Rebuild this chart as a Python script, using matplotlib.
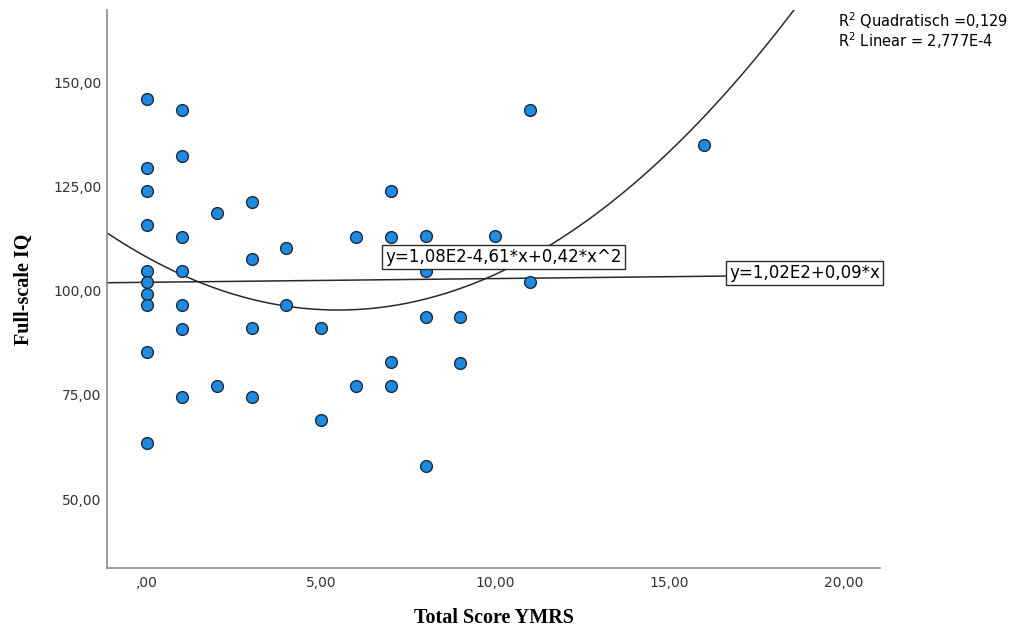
import numpy as np
import matplotlib
matplotlib.use('Agg')
import matplotlib.pyplot as plt

# YMRS total score vs full-scale IQ
ymrs = [0, 0, 0, 0, 0, 0, 0, 0, 0, 0,
        1, 1, 1, 1, 1, 1, 1,
        2, 2,
        3, 3, 3, 3,
        4, 4,
        5, 5,
        6, 6,
        7, 7, 7, 7,
        8, 8, 8, 8,
        9, 9,
        10,
        11, 11,
        16]
iq = [146.0, 129.5, 124.0, 115.8, 104.8, 102.0, 99.3, 96.6, 85.4, 63.5,
      143.4, 132.4, 112.9, 104.8, 96.6, 90.9, 74.6,
      118.5, 77.2,
      121.3, 107.5, 91.0, 74.5,
      110.2, 96.6,
      91.0, 69.0,
      112.9, 77.2,
      124.0, 112.9, 82.8, 77.2,
      113.0, 104.8, 93.8, 57.9,
      93.8, 82.7,
      113.0,
      143.4, 102.0,
      135.0]

# fitted coefficients as reported in the chart
lin_coef = (102.0, 0.09)
quad_coef = (108.0, -4.61, 0.42)
lin_label = 'y=1,02E2+0,09*x'
quad_label = 'y=1,08E2-4,61*x+0,42*x^2'
r2_text = '$\\mathregular{R^2}$ Quadratisch =0,129\n$\\mathregular{R^2}$ Linear = 2,777E-4'

xticks = [0, 5, 10, 15, 20]
xticklabels = [',00', '5,00', '10,00', '15,00', '20,00']
yticks = [50, 75, 100, 125, 150]
yticklabels = ['50,00', '75,00', '100,00', '125,00', '150,00']

XLIM = (-1.15, 21.05)
YLIM = (33.5, 167.3)

fig = plt.figure(figsize=(10.16, 6.32), dpi=100)
ax = fig.add_axes([0.1053, 0.1013, 0.7609, 0.8829])

ax.scatter(ymrs, iq, s=72, color='#1e8be3', edgecolors='#1a2a3a',
           linewidths=1.0, zorder=3)

xx = np.linspace(XLIM[0], XLIM[1], 400)
ax.plot(xx, lin_coef[0] + lin_coef[1] * xx, color='#2a2a2a', lw=1.1, zorder=2)
ax.plot(xx, quad_coef[0] + quad_coef[1] * xx + quad_coef[2] * xx**2,
        color='#2a2a2a', lw=1.1, zorder=2)

box = dict(boxstyle='square,pad=0.18', fc='white', ec='#2a2a2a', lw=1.0)
ax.text(6.84, 108.0, quad_label, fontsize=12, family='DejaVu Sans',
        ha='left', va='center', bbox=box, zorder=4)
ax.text(16.72, 104.3, lin_label, fontsize=12, family='DejaVu Sans',
        ha='left', va='center', bbox=box, zorder=4)

fig.text(838 / 1016, 1 - 10 / 632, r2_text, fontsize=10.5,
         family='DejaVu Sans', ha='left', va='top', linespacing=1.0)

ax.set_xlim(*XLIM)
ax.set_ylim(*YLIM)
ax.set_xticks(xticks)
ax.set_xticklabels(xticklabels)
ax.set_yticks(yticks)
ax.set_yticklabels(yticklabels)
ax.tick_params(length=0, labelsize=10, colors='#333333')
ax.tick_params(axis='y', pad=4)
ax.tick_params(axis='x', pad=6)

for side in ('top', 'right'):
    ax.spines[side].set_visible(False)
for side in ('left', 'bottom'):
    ax.spines[side].set_color('#8a8a8a')
    ax.spines[side].set_linewidth(1.2)

ax.set_xlabel('Total Score YMRS', family='Liberation Serif',
              fontweight='bold', fontsize=14.5)
ax.set_ylabel('Full-scale IQ', family='Liberation Serif',
              fontweight='bold', fontsize=14.5)
ax.xaxis.set_label_coords(0.5, -0.072)
ax.yaxis.set_label_coords(-0.095, 0.5)

fig.savefig('out.png', dpi=100)
